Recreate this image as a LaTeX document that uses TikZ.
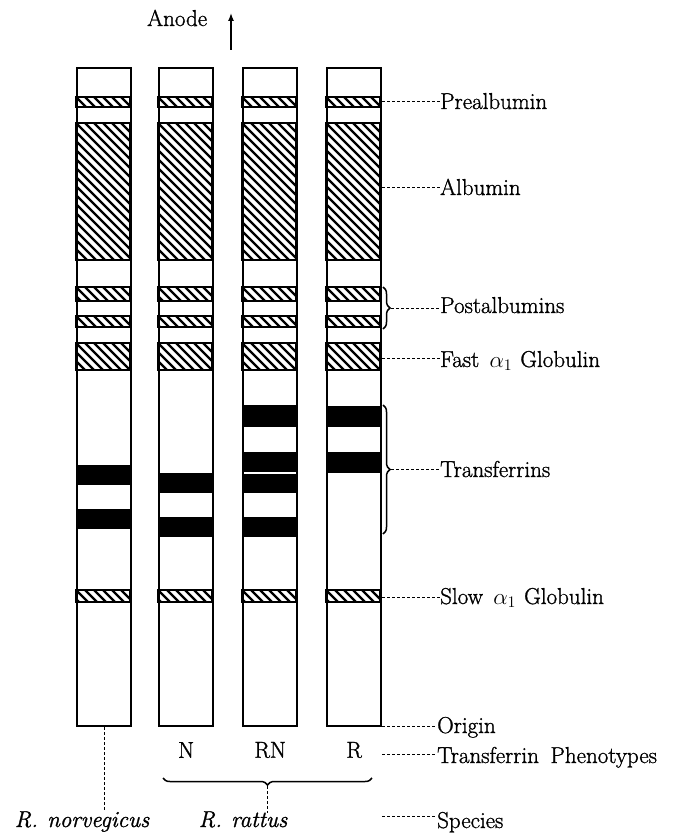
\RequirePackage{fix-cm}
\documentclass[tikz,border=0pt]{standalone}
\usepackage{amsmath}
\usepackage{fontspec}
\setmainfont{Latin Modern Roman}[FakeBold=1.2]
\usetikzlibrary{arrows.meta,positioning,decorations.pathreplacing,calc}

% hatched band across one lane: #1 left x, #2 top y, #3 bottom y
\newcommand{\hatchband}[3]{%
  \begin{scope}
    \clip (#1,#2) rectangle (#1+54,#3);
    \foreach \k in {-153,-144,...,63}
      \draw[hatchline] (#1+\k,#2) -- ++(160,160);
  \end{scope}
  \draw[bandedge] (#1,#2) rectangle (#1+54,#3);
}
% solid band across one lane
\newcommand{\blackband}[3]{%
  \fill[black] (#1,#2) rectangle (#1+54,#3);
}

\begin{document}
\begin{tikzpicture}[
  x=1pt, y=-1pt,
  font=\fontsize{23}{27}\selectfont,
  lane/.style={draw, line width=2.2pt, minimum width=54pt, minimum height=658pt, inner sep=0pt, anchor=north west},
  bandedge/.style={draw, line width=1.8pt},
  hatchline/.style={line width=2.2pt},
  leader/.style={dash pattern=on 3pt off 2pt, line width=1pt},
  curly/.style={decorate, decoration={brace, amplitude=7pt}, line width=1.5pt},
  lbl/.style={anchor=base west, inner sep=0pt}
]
  \useasboundingbox (0,0) rectangle (688,834);

  % Bands common to all lanes
  \foreach \x in {76,158,242,326} {
    \hatchband{\x}{97}{107}
    \hatchband{\x}{123}{260}
    \hatchband{\x}{287}{301}
    \hatchband{\x}{316}{327}
    \hatchband{\x}{343}{370}
    \hatchband{\x}{590}{602}
  }

  % Transferrin bands
  \foreach \x/\t/\b in {76/465/485, 76/509/529, 158/473/493, 158/517/537,
                        242/405/427, 242/452/472, 242/474/493, 242/517/537,
                        326/406/427, 326/452/473}
    \blackband{\x}{\t}{\b};

  % Lanes
  \node[lane] (c1) at (76,67) {};
  \node[lane] (c2) at (158,67) {};
  \node[lane] (c3) at (242,67) {};
  \node[lane] (c4) at (326,67) {};

  % Anode
  \node[lbl] (anode) at (147,26) {Anode};
  \coordinate (anodefoot) at (231,50);
  \coordinate (anodetip) at (231,13);
  \draw[-{Latex[length=8pt,width=6pt]}, line width=1.3pt] (anodefoot) -- (anodetip);

  % Band labels
  \node[lbl] (prealb) at (440,109) {Prealbumin};
  \node[lbl] (alb) at (440,195) {Albumin};
  \node[lbl] (postalb) at (440,313) {Postalbumins};
  \node[lbl] (fastglob) at (440,367) {Fast\hspace{0.45em}$\alpha_1$\hspace{0.35em}Globulin};
  \node[lbl] (transf) at (440,477) {Transferrins};
  \node[lbl] (slowglob) at (440,604) {Slow\hspace{0.45em}$\alpha_1$\hspace{0.35em}Globulin};
  \node[lbl] (origin) at (437,733) {Origin};
  \node[lbl] (phenot) at (437,763) {Transferrin\hspace{0.5em}Phenotypes};
  \node[lbl] (species) at (437,828) {Species};

  \foreach \n/\dy in {prealb/7, alb/7, fastglob/9, slowglob/7, origin/7, phenot/9, species/12} {
    \path ([yshift=\dy pt]\n.base west) coordinate (t);
    \draw[leader] (t -| c4.east) -- (t);
  }

  % Braces on the right
  \coordinate (pbtop) at (383,287);
  \coordinate (pbbot) at (383,329);
  \draw[curly] (pbtop) -- (pbbot);
  \coordinate (pbtip) at ($(pbtop)!.5!(pbbot)+(8,0)$);
  \draw[leader] (pbtip) -- (pbtip -| postalb.west);

  \coordinate (tftop) at (383,405);
  \coordinate (tfbot) at (383,534);
  \draw[curly] (tftop) -- (tfbot);
  \coordinate (tftip) at ($(tftop)!.5!(tfbot)+(8,0)$);
  \draw[leader] (tftip) -- (tftip -| transf.west);

  % Phenotypes and species
  \node (phN) at (c2.south |- 0,750) {N};
  \node (phRN) at (c3.south |- 0,750) {RN};
  \node (phR) at (c4.south |- 0,750) {R};

  \coordinate (rl) at (163,778);
  \coordinate (rr) at (372,778);
  \draw[curly, decoration={brace, mirror, amplitude=7pt}] (rl) -- (rr);
  \coordinate (rtip) at ($(rl)!.5!(rr)+(0,8)$);

  \node[anchor=base, inner sep=0pt] (norv) at (82,827) {\itshape R.\hspace{0.4em}norvegicus};
  \node[anchor=base, inner sep=0pt] (ratt) at (243,827) {\itshape R.\hspace{0.4em}rattus};

  \draw[leader] (c1.south) -- (c1.south |- norv.north);
  \draw[leader] (rtip) -- ([yshift=-2pt]rtip |- ratt.north);
\end{tikzpicture}
\end{document}
